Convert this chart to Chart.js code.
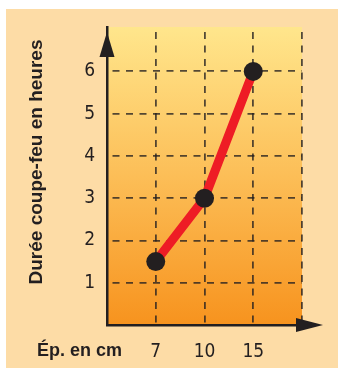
<!DOCTYPE html>
<html>
<head>
<meta charset="utf-8">
<script src="https://cdn.jsdelivr.net/npm/chart.js@4/dist/chart.umd.min.js"></script>
<style>
  html, body { margin: 0; padding: 0; background: #fff; overflow: hidden; }
  canvas { display: block; }
</style>
</head>
<body>
<canvas id="c" width="338" height="378"></canvas>
<script>
// Thickness (cm) vs. fire-resistance duration (hours)
const thicknessCm = ['7', '10', '15'];
const fireHours = [1.5, 3, 6];
const hourTicks = [1, 2, 3, 4, 5, 6];
const xTitle = 'Ép. en cm';
const yTitle = 'Durée coupe-feu en heures';

// an empty slot on each side keeps the points inside the grid
const labels = ['', ...thicknessCm, ''];
const values = [null, ...fireHours, null];

const INK = '#231F20';
const GRID = 'rgba(35, 31, 32, 0.78)';
const tickFont = { family: "'Liberation Sans Narrow', 'DejaVu Sans Condensed', sans-serif", size: 19, lineHeight: 1 };
const titleFamily = "'Liberation Sans', Arial, sans-serif";

const decor = {
  id: 'decor',
  beforeDraw(chart) {
    const { ctx, chartArea: a } = chart;
    ctx.save();
    ctx.fillStyle = '#FDDCA6';
    ctx.fillRect(6, 9, chart.width - 6, 359);
    const g = ctx.createLinearGradient(0, a.top, 0, a.bottom);
    g.addColorStop(0, '#FFE68C');
    g.addColorStop(0.5, '#FCBE57');
    g.addColorStop(1, '#F7931E');
    ctx.fillStyle = g;
    ctx.fillRect(a.left, a.top, a.right - a.left, a.bottom - a.top);
    ctx.restore();
  },
  afterDraw(chart) {
    const { ctx, chartArea: a } = chart;
    ctx.save();
    ctx.fillStyle = INK;
    // arrow heads on both axes
    ctx.beginPath();
    ctx.moveTo(a.left, a.top + 5);
    ctx.lineTo(a.left + 7.5, a.top + 30);
    ctx.lineTo(a.left - 7.5, a.top + 30);
    ctx.closePath();
    ctx.fill();
    ctx.beginPath();
    ctx.moveTo(a.right + 21, a.bottom);
    ctx.lineTo(a.right - 6, a.bottom - 7);
    ctx.lineTo(a.right - 6, a.bottom + 7);
    ctx.closePath();
    ctx.fill();
    // axis titles
    ctx.font = 'bold 19px ' + titleFamily;
    ctx.textAlign = 'center';
    ctx.textBaseline = 'middle';
    ctx.translate(37, 162);
    ctx.rotate(-Math.PI / 2);
    ctx.fillText(yTitle, 0, 0);
    ctx.restore();
    ctx.save();
    ctx.fillStyle = INK;
    ctx.font = 'bold 18px ' + titleFamily;
    ctx.textAlign = 'left';
    ctx.textBaseline = 'middle';
    ctx.fillText(xTitle, 37, 351);
    ctx.restore();
  }
};

new Chart(document.getElementById('c'), {
  type: 'line',
  data: {
    labels: labels,
    datasets: [{
      data: values,
      borderColor: '#EE1C25',
      borderWidth: 9,
      tension: 0,
      pointRadius: 9.5,
      pointBackgroundColor: INK,
      pointBorderWidth: 0,
      clip: false
    }]
  },
  options: {
    responsive: false,
    animation: false,
    events: [],
    layout: { padding: { top: 27, right: 36, left: 0, bottom: 0 } },
    plugins: { legend: { display: false }, tooltip: { enabled: false } },
    scales: {
      x: {
        type: 'category',
        offset: false,
        grid: { color: GRID, lineWidth: 1.8, drawTicks: false },
        border: { display: true, color: INK, width: 2.5, dash: [7, 6.5], dashOffset: -5 },
        ticks: { font: tickFont, color: INK, padding: 18, autoSkip: false, maxRotation: 0 },
        afterFit(s) { s.height = 53; }
      },
      y: {
        min: 0,
        max: 7.05,
        afterBuildTicks(s) { s.ticks = hourTicks.map(v => ({ value: v })); },
        grid: { color: GRID, lineWidth: 1.8, drawTicks: false },
        border: { display: true, color: INK, width: 2.5, dash: [7, 6.5], dashOffset: -4 },
        ticks: { font: tickFont, color: INK, padding: 12 },
        afterFit(s) { s.width = 107; }
      }
    }
  },
  plugins: [decor]
});
</script>
</body>
</html>
